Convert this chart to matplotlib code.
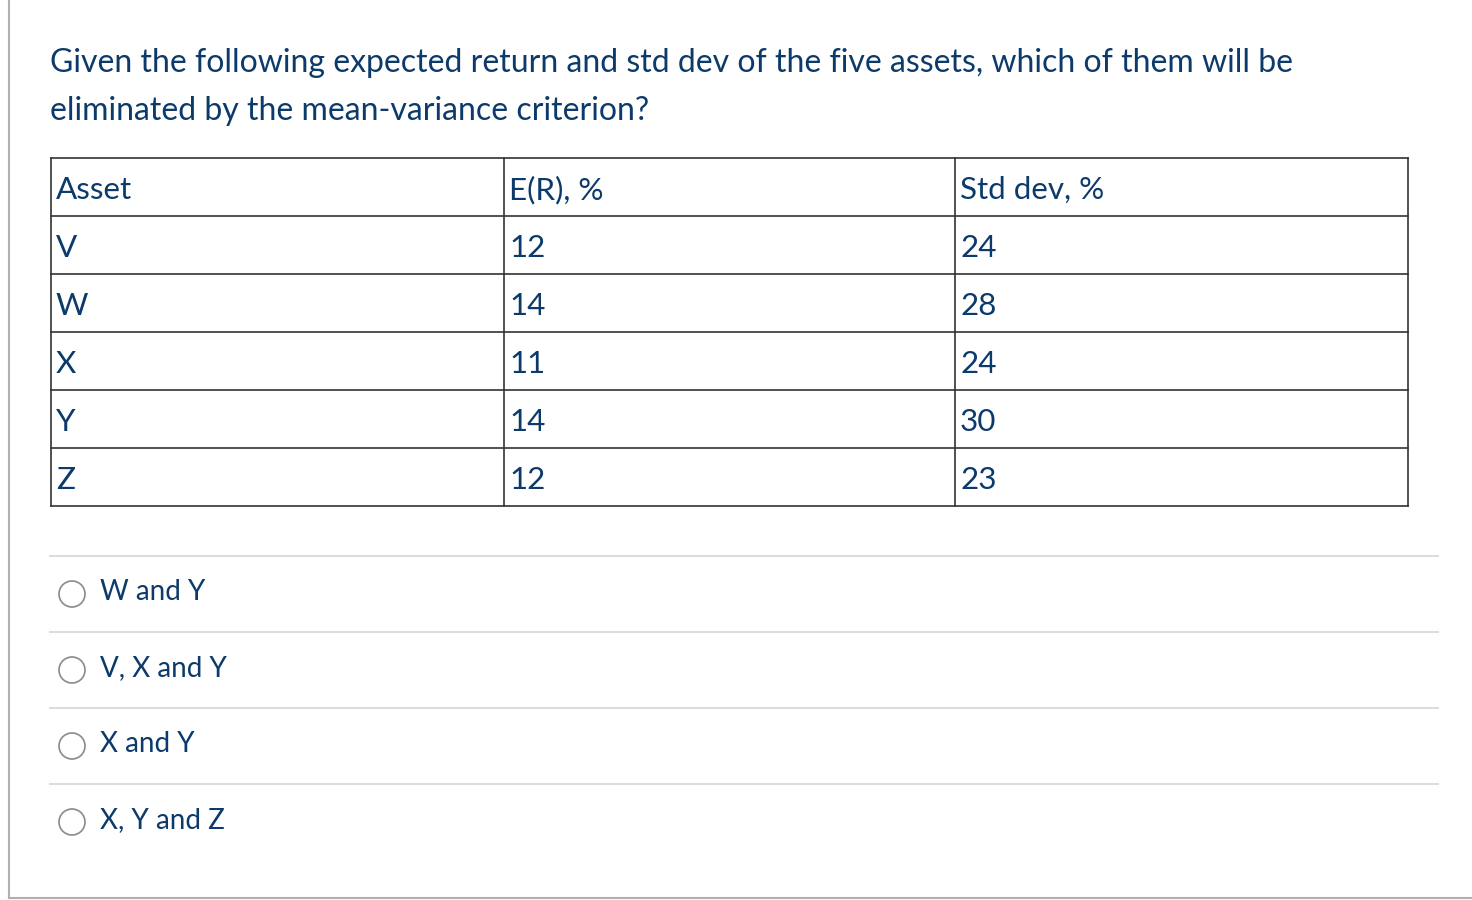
import matplotlib
matplotlib.use("Agg")
import matplotlib.pyplot as plt

question = ["Given the following expected return and std dev of the five assets, which of them will be",
            "eliminated by the mean-variance criterion?"]
headers = ["Asset", "E(R), %", "Std dev, %"]
assets = ["V", "W", "X", "Y", "Z"]
exp_ret = [12, 14, 11, 14, 12]
std_dev = [24, 28, 24, 30, 23]
options = ["W and Y", "V, X and Y", "X and Y", "X, Y and Z"]

C = "#0b3a6b"
fig = plt.figure(figsize=(14.72, 9), dpi=100)
ax = fig.add_axes([0, 0, 1, 1])
ax.set_xlim(0, 1472); ax.set_ylim(900, 0); ax.axis("off")
fp = dict(family=["Lato", "DejaVu Sans"], color=C, va="center")

# page border
ax.plot([9, 9], [0, 898], color="#b0b0b0", lw=1.5)
ax.plot([9, 1472], [898, 898], color="#b0b0b0", lw=1.5)

for i, line in enumerate(question):
    ax.text(50, 63 + i * 48, line, fontsize=23, **fp)

# table
cols = [51, 504, 955, 1408]
rows = [158 + 58 * i for i in range(7)]
for y in rows:
    ax.plot([cols[0], cols[-1]], [y, y], color="#333333", lw=1.2)
for x in cols:
    ax.plot([x, x], [rows[0], rows[-1]], color="#333333", lw=1.2)
table = [headers] + [[a, str(e), str(s)] for a, e, s in zip(assets, exp_ret, std_dev)]
for r, row in enumerate(table):
    for c, val in enumerate(row):
        ax.text(cols[c] + 5, (rows[r] + rows[r + 1]) / 2 + 3, val, fontsize=22.6, **fp)

# options
for i, opt in enumerate(options):
    ytop = 556 + 76 * i
    ax.plot([50, 1438], [ytop, ytop], color="#dcdcdc", lw=1.5)
    yc = ytop + 36
    ax.add_patch(plt.Circle((72, yc + 2), 13, fill=False, ec="#8a8a8a", lw=1.2))
    ax.text(100, yc, opt, fontsize=20, **fp)

fig.savefig("out.png", dpi=100)
